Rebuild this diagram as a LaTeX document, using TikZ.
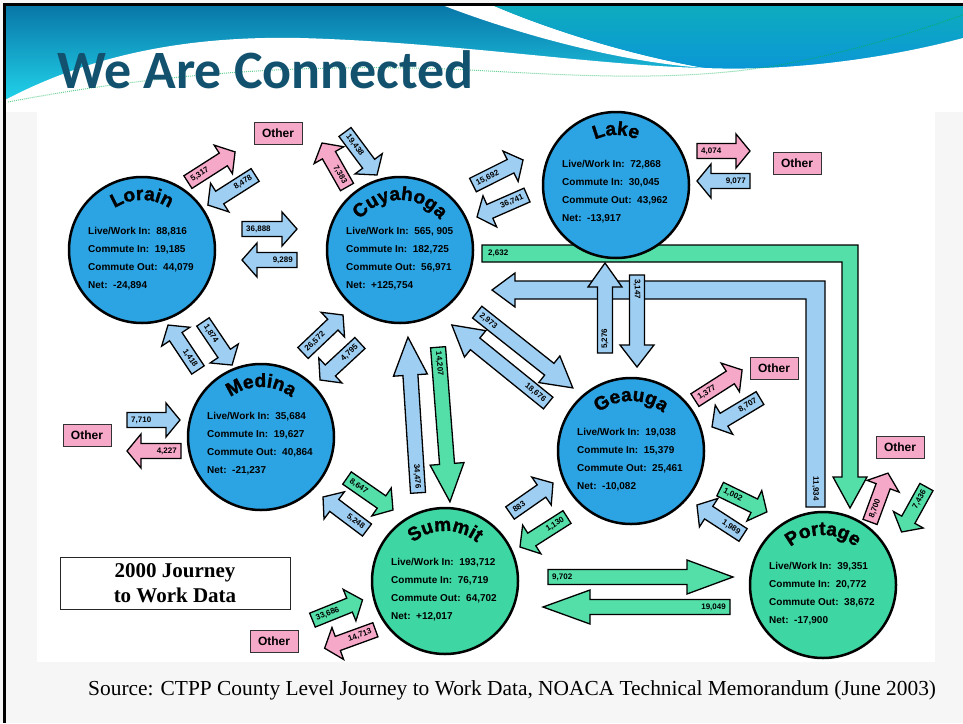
\documentclass[tikz,border=0pt]{standalone}
\usepackage{fontspec}
\setmainfont{Liberation Sans}
\newfontfamily\titlefont{Carlito}
\newfontfamily\namefont{Liberation Sans}[BoldFeatures={FakeBold=1.5}]
\newfontfamily\srcfont{Liberation Serif}
\usetikzlibrary{decorations.text}

\definecolor{countyblue}{RGB}{44,164,228}
\definecolor{countygreen}{RGB}{62,214,162}
\definecolor{flowblue}{RGB}{158,206,242}
\definecolor{flowgreen}{RGB}{84,222,168}
\definecolor{flowpink}{RGB}{246,168,200}
\definecolor{titleteal}{RGB}{18,82,110}
\definecolor{hdrdark}{RGB}{8,118,168}
\definecolor{hdrlight}{RGB}{34,214,236}
\definecolor{hdrteal}{RGB}{14,172,190}
\definecolor{hdrblue}{RGB}{10,150,215}
\definecolor{slidegrey}{RGB}{246,246,246}

\newcommand{\namestyle}{\namefont\bfseries\fontsize{19}{19}\selectfont}

\tikzset{
  county/.style={circle, draw=black, line width=2.5pt, minimum size=146pt, inner sep=0pt},
  info/.style={anchor=west, align=left, inner sep=0pt, font=\bfseries\fontsize{10}{18}\selectfont},
  other/.style={draw=black!80, line width=1pt, fill=flowpink, minimum width=48pt,
    minimum height=22pt, inner sep=0pt, font=\bfseries\fontsize{12}{12}\selectfont},
  lbl/.style={font=\bfseries\fontsize{8}{8}\selectfont, inner sep=2pt},
  flow line/.style={draw=black, line width=1.3pt, line join=miter},
  % tail, tip, head length, colour, label
  pics/flow/.style n args={5}{code={%
    \pgfmathsetmacro\sg{sign((#2)-(#1))}
    \pgfmathsetmacro\hd{(#2)-(#3)*\sg}
    \pgfmathtruncatemacro\an{90+90*\sg}
    \filldraw[flow line, fill=#4] (#1,7.5) -- (\hd,7.5) -- (\hd,17) -- (#2,0)
      -- (\hd,-17) -- (\hd,-7.5) -- (#1,-7.5) -- cycle;
    \node[lbl, transform shape, anchor=\an] (-lbl) at ({(#1)+2*\sg},0) {#5};
  }}
}

\begin{document}
\begin{tikzpicture}[x=1pt, y=1pt]
  \useasboundingbox (0,-723) rectangle (963,0);
  \fill[slidegrey] (0,-723) rectangle (963,0);

  % header
  \shade[top color=hdrdark, bottom color=hdrlight] (5,-5) rectangle (963,-104);
  \fill[white] (442,-5) .. controls (520,-35) and (620,-62) .. (705,-68)
    .. controls (630,-55) and (550,-30) .. (492,-5) -- cycle;
  \shade[top color=hdrteal, bottom color=hdrblue] (492,-5) .. controls (550,-30) and (630,-55) .. (705,-68)
    .. controls (800,-72) and (900,-55) .. (963,-38) -- (963,-5) -- cycle;
  \fill[white] (5,-100) .. controls (100,-50) and (200,-36) .. (300,-38)
    .. controls (450,-42) and (600,-66) .. (705,-68)
    .. controls (800,-72) and (900,-55) .. (963,-38) -- (963,-112) -- (5,-112) -- cycle;
  \draw[densely dotted, line width=1pt, teal!60!green, opacity=0.6] (8,-102)
    .. controls (150,-75) and (300,-62) .. (470,-70)
    .. controls (580,-76) and (680,-82) .. (780,-65)
    .. controls (860,-50) and (920,-30) .. (963,-15);
  \node[anchor=base west, inner sep=0pt, text=titleteal,
    font=\titlefont\bfseries\fontsize{54}{54}\selectfont] (title) at (57,-88) {We Are Connected};

  \fill[white] (37,-108) rectangle (935,-662);

  % the two long bent flows
  \filldraw[flow line, fill=flowgreen] (482,-245) -- (858,-245) -- (858,-477) -- (867,-477)
    -- (850,-508) -- (833,-477) -- (842,-477) -- (842,-262) -- (482,-262) -- cycle;
  \node[lbl, anchor=west] (l2632) at (486,-253.5) {2,632};
  \filldraw[flow line, fill=flowblue] (806,-507) -- (825,-507) -- (825,-281) -- (515,-281)
    -- (515,-273) -- (492,-290) -- (515,-307) -- (515,-299) -- (806,-299) -- cycle;
  \node[lbl, rotate=-90, anchor=east] (l11934) at (815.5,-503) {11,934};

  % counties
  \node[county, fill=countyblue] (lorain) at (142,-250) {};
  \node[county, fill=countyblue] (cuyahoga) at (400,-250) {};
  \node[county, fill=countyblue] (lake) at (616,-185) {};
  \node[county, fill=countyblue] (medina) at (261,-437) {};
  \node[county, fill=countyblue] (geauga) at (631,-451) {};
  \node[county, fill=countygreen] (summit) at (445,-581) {};
  \node[county, fill=countygreen] (portage) at (823,-585) {};

  \path[decorate, decoration={text along path, text align=center, text={|\namestyle|Lorain}}]
    ([shift={(150:50)}]lorain.center) arc[start angle=150, end angle=30, radius=50];
  \path[decorate, decoration={text along path, text align=center, text={|\namestyle|Cuyahoga}}]
    ([shift={(150:50)}]cuyahoga.center) arc[start angle=150, end angle=30, radius=50];
  \path[decorate, decoration={text along path, text align=center, text={|\namestyle|Lake}}]
    ([shift={(150:50)}]lake.center) arc[start angle=150, end angle=30, radius=50];
  \path[decorate, decoration={text along path, text align=center, text={|\namestyle|Medina}}]
    ([shift={(150:50)}]medina.center) arc[start angle=150, end angle=30, radius=50];
  \path[decorate, decoration={text along path, text align=center, text={|\namestyle|Geauga}}]
    ([shift={(150:50)}]geauga.center) arc[start angle=150, end angle=30, radius=50];
  \path[decorate, decoration={text along path, text align=center, text={|\namestyle|Summit}}]
    ([shift={(150:50)}]summit.center) arc[start angle=150, end angle=30, radius=50];
  \path[decorate, decoration={text along path, text align=center, text={|\namestyle|Portage}}]
    ([shift={(150:50)}]portage.center) arc[start angle=150, end angle=30, radius=50];

  \node[info] (lorain-info) at (88,-259)
    {Live/Work In:\ \ 88,816\\Commute In:\ \ 19,185\\Commute Out:\ \ 44,079\\Net:\ \ -24,894};
  \node[info] (cuyahoga-info) at (346,-259)
    {Live/Work In:\ \ 565, 905\\Commute In:\ \ 182,725\\Commute Out:\ \ 56,971\\Net:\ \ +125,754};
  \node[info] (lake-info) at (562,-192)
    {Live/Work In:\ \ 72,868\\Commute In:\ \ 30,045\\Commute Out:\ \ 43,962\\Net:\ \ -13,917};
  \node[info] (medina-info) at (207,-444)
    {Live/Work In:\ \ 35,684\\Commute In:\ \ 19,627\\Commute Out:\ \ 40,864\\Net:\ \ -21,237};
  \node[info] (geauga-info) at (577,-460)
    {Live/Work In:\ \ 19,038\\Commute In:\ \ 15,379\\Commute Out:\ \ 25,461\\Net:\ \ -10,082};
  \node[info] (summit-info) at (391,-590)
    {Live/Work In:\ \ 193,712\\Commute In:\ \ 76,719\\Commute Out:\ \ 64,702\\Net:\ \ +12,017};
  \node[info] (portage-info) at (769,-594)
    {Live/Work In:\ \ 39,351\\Commute In:\ \ 20,772\\Commute Out:\ \ 38,672\\Net:\ \ -17,900};

  % flows
  \pic[rotate=32.6] (f5317) at (211.5,-167) {flow={-28}{28}{14}{flowpink}{5,317}};
  \pic[rotate=32.5] (f8478) at (231.5,-190) {flow={28}{-28}{14}{flowblue}{8,478}};
  \pic (f36888) at (269.5,-229) {flow={-27.5}{27.5}{15}{flowblue}{36,888}};
  \pic (f9289) at (269.5,-260) {flow={27.5}{-27.5}{15}{flowblue}{9,289}};
  \pic[rotate=-60.4] (f7383) at (334.5,-165) {flow={25.3}{-25.3}{14}{flowpink}{7,383}};
  \pic[rotate=-53.3] (f19438) at (361,-153.5) {flow={-26.8}{26.8}{14}{flowblue}{19,438}};
  \pic[rotate=26.6] (f15692) at (498,-172.5) {flow={-28}{28}{14}{flowblue}{15,692}};
  \pic[rotate=23.7] (f36741) at (502,-206) {flow={27.3}{-27.3}{14}{flowblue}{36,741}};
  \pic (f4074) at (723.5,-151) {flow={-26.5}{26.5}{14}{flowpink}{4,074}};
  \pic (f9077) at (723.5,-181) {flow={26.5}{-26.5}{14}{flowblue}{9,077}};
  \pic[rotate=90] (f5276) at (605,-308) {flow={-45}{45}{24}{flowblue}{5,276}};
  \pic[rotate=-90] (f3147) at (637,-321) {flow={-46}{46}{22}{flowblue}{3,147}};
  \pic[rotate=-38.4] (f2973) at (525,-350) {flow={-61}{61}{30}{flowblue}{2,973}};
  \pic[rotate=-39] (f18676) at (500,-364) {flow={62}{-62}{30}{flowblue}{18,676}};
  \pic[rotate=-86.3] (f34476) at (413,-415) {flow={78}{-78}{38}{flowblue}{34,476}};
  \pic[rotate=-85.6] (f14207) at (444,-424.5) {flow={-77.5}{77.5}{38}{flowgreen}{14,207}};
  \pic[rotate=-56.3] (f1418) at (183,-347.5) {flow={27}{-27}{14}{flowblue}{1,418}};
  \pic[rotate=-56] (f1874) at (217.5,-343.5) {flow={-26}{26}{14}{flowblue}{1,874}};
  \pic[rotate=43.5] (f26572) at (323,-334) {flow={-27.6}{27.6}{14}{flowblue}{26,572}};
  \pic[rotate=42.8] (f4795) at (340,-361.5) {flow={27.2}{-27.2}{14}{flowblue}{4,795}};
  \pic (f7710) at (153.5,-420) {flow={-26.5}{26.5}{14}{flowblue}{7,710}};
  \pic (f4227) at (154,-451) {flow={27}{-27}{14}{flowpink}{4,227}};
  \pic[rotate=-34.8] (f8647) at (370,-494) {flow={-28}{28}{14}{flowgreen}{8,647}};
  \pic[rotate=-36.9] (f5248) at (345,-513.5) {flow={27.5}{-27.5}{14}{flowblue}{5,248}};
  \pic[rotate=34.9] (f883) at (531.5,-498) {flow={-26.2}{26.2}{14}{flowblue}{883}};
  \pic[rotate=32.5] (f1130) at (543.5,-532) {flow={27.9}{-27.9}{14}{flowgreen}{1,130}};
  \pic (f9702) at (640.5,-577) {flow={-92.5}{92.5}{46}{flowgreen}{9,702}};
  \pic (f19049) at (636.5,-607) {flow={93.5}{-93.5}{47}{flowgreen}{19,049}};
  \pic[rotate=22] (f33686) at (337.5,-610) {flow={-27}{27}{14}{flowgreen}{33,686}};
  \pic[rotate=20] (f14713) at (350,-639) {flow={27}{-27}{14}{flowpink}{14,713}};
  \pic[rotate=32.6] (f1377) at (718.5,-385) {flow={-28}{28}{14}{flowpink}{1,377}};
  \pic[rotate=31] (f8707) at (736,-412.5) {flow={28}{-28}{14}{flowblue}{8,707}};
  \pic[rotate=-26] (f1002) at (743.5,-500.5) {flow={-26}{26}{14}{flowgreen}{1,002}};
  \pic[rotate=-33] (f1989) at (720,-520) {flow={27.5}{-27.5}{14}{flowblue}{1,989}};
  \pic[rotate=69.8] (f8700) at (879,-497.5) {flow={-26}{26}{14}{flowpink}{8,700}};
  \pic[rotate=61] (f7436) at (914,-509.5) {flow={25.7}{-25.7}{14}{flowgreen}{7,436}};

  % outside the region
  \node[other] (other-lorain) at (278,-133) {Other};
  \node[other] (other-lake) at (797,-163) {Other};
  \node[other] (other-medina) at (87,-435) {Other};
  \node[other] (other-geauga) at (774,-368) {Other};
  \node[other] (other-portage) at (900,-447) {Other};
  \node[other] (other-summit) at (274,-641) {Other};

  \node[draw=black!85, line width=1pt, minimum width=230pt, minimum height=52pt, align=center,
    font=\srcfont\bfseries\fontsize{21}{25}\selectfont] (legend) at (175,-583) {2000 Journey\\to Work Data};

  \node[anchor=base west, inner sep=0pt, font=\srcfont\fontsize{21.4}{21.4}\selectfont] (source) at (88,-695)
    {Source: CTPP County Level Journey to Work Data, NOACA Technical Memorandum (June 2003)};

  \draw[line width=3pt] (4.5,-723) -- (4.5,-4.5) -- (963,-4.5);
\end{tikzpicture}
\end{document}
